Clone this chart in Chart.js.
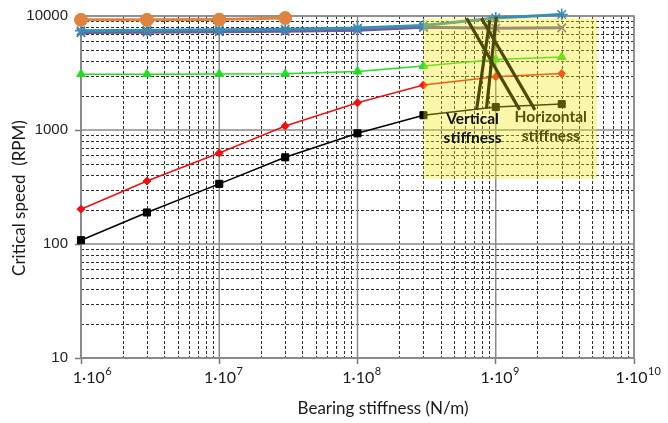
<!DOCTYPE html>
<html><head><meta charset="utf-8">
<style>html,body{margin:0;padding:0;background:#fff;}#wrap{width:668px;height:423px;}</style>
<script src="https://cdn.jsdelivr.net/npm/chart.js@4.4.1/dist/chart.umd.min.js"></script>
</head><body><div id="wrap"><canvas id="c" width="668" height="423"></canvas></div>
<script>
// ---- data ----
const stiffness = [1e6, 3e6, 1e7, 3e7, 1e8, 3e8, 1e9, 3e9];
const seriesOrange = [9250, 9250, 9300, 9600];
const seriesBlue   = [7420, 7500, 7580, 7670, 7830, 8250, 9600, 10300];
const seriesPurple = [7150, 7200, 7280, 7350, 7500, 7950, 7800, 7870];
const seriesGreen  = [3090, 3090, 3100, 3110, 3260, 3650, 4160, 4370];
const seriesRed    = [202, 357, 628, 1083, 1733, 2477, 2930, 3127];
const seriesBlack  = [108, 189, 337, 576, 935, 1348, 1589, 1687];
const xTickExponents = ['6', '7', '8', '9', '10'];
const yTickLabels = ['10', '100', '1000', '10000'];
const xTitle = 'Bearing stiffness (N/m)';
const yTitle = 'Critical speed  (RPM)';
const highlightBox = [3e8, 5.4e9, 372, 9550];            // xMin, xMax, yMin, yMax
const verticalPointers = [[7.26e8, 1500, 9.06e8, 9236], [8.57e8, 1542, 1.01e9, 9880]];
const horizontalPointers = [[1.49e9, 1500, 6.15e8, 9550], [1.92e9, 1500, 7.89e8, 9550]];
const verticalLabel = ['Vertical', 'stiffness'];
const verticalLabelAt = [6.8e8, 1257, 845];
const horizontalLabel = ['Horizontal', 'stiffness'];
const horizontalLabelAt = [2.5e9, 1306, 877];

const pts = vals => vals.map((v, i) => ({x: stiffness[i], y: v}));
const isMajor = v => Math.abs(Math.log10(v) - Math.round(Math.log10(v))) < 1e-9;
function logTicks(lo, hi) {
  const t = [];
  for (let e = lo; e < hi; e++) for (let m = 1; m <= 9; m++) t.push({value: m * Math.pow(10, e)});
  t.push({value: Math.pow(10, hi)});
  return t;
}

const decor = {
  id: 'decor',
  beforeDatasetsDraw(chart) {
    const {ctx, chartArea: a, scales: {x, y}} = chart;
    ctx.save();
    const line = (x1, y1, x2, y2) => { ctx.beginPath(); ctx.moveTo(x1, y1); ctx.lineTo(x2, y2); ctx.stroke(); };
    ctx.lineWidth = 1; ctx.strokeStyle = '#2e2e2e'; ctx.setLineDash([3, 2]);
    x.ticks.forEach(t => { if (!isMajor(t.value)) { const p = Math.round(x.getPixelForValue(t.value)) + 0.5; line(p, a.top, p, a.bottom); } });
    y.ticks.forEach(t => { if (!isMajor(t.value)) { const p = Math.round(y.getPixelForValue(t.value)) + 0.5; line(a.left, p, a.right, p); } });
    ctx.setLineDash([]); ctx.strokeStyle = '#8a8a8a'; ctx.lineWidth = 1.5;
    x.ticks.forEach(t => { if (isMajor(t.value)) { const p = x.getPixelForValue(t.value); line(p, a.top, p, a.bottom); } });
    y.ticks.forEach(t => { if (isMajor(t.value)) { const p = y.getPixelForValue(t.value); line(a.left, p, a.right, p); } });
    ctx.strokeRect(a.left, a.top, a.width, a.height);
    ctx.restore();
  },
  afterDatasetsDraw(chart) {
    const {ctx, scales: {x, y}} = chart;
    ctx.save();
    // translucent yellow highlight
    const bx1 = x.getPixelForValue(highlightBox[0]), bx2 = x.getPixelForValue(highlightBox[1]);
    const by1 = y.getPixelForValue(highlightBox[3]), by2 = y.getPixelForValue(highlightBox[2]);
    ctx.fillStyle = 'rgba(240,234,20,0.36)';
    ctx.fillRect(bx1, by1, bx2 - bx1, by2 - by1);
    // pointer lines
    ctx.strokeStyle = '#4d4906'; ctx.lineWidth = 3.2; ctx.lineCap = 'butt';
    verticalPointers.concat(horizontalPointers).forEach(p => {
      ctx.beginPath();
      ctx.moveTo(x.getPixelForValue(p[0]), y.getPixelForValue(p[1]));
      ctx.lineTo(x.getPixelForValue(p[2]), y.getPixelForValue(p[3]));
      ctx.stroke();
    });
    // labels
    ctx.textAlign = 'center'; ctx.textBaseline = 'middle';
    ctx.font = 'bold 15.5px Lato';
    ctx.fillStyle = '#111';
    verticalLabel.forEach((s, i) => ctx.fillText(s, x.getPixelForValue(verticalLabelAt[0]), y.getPixelForValue(verticalLabelAt[i + 1])));
    ctx.fillStyle = '#55500e';
    horizontalLabel.forEach((s, i) => ctx.fillText(s, x.getPixelForValue(horizontalLabelAt[0]), y.getPixelForValue(horizontalLabelAt[i + 1])));
    ctx.restore();
  },
  afterDraw(chart) {
    const {ctx, scales: {x}} = chart;
    ctx.save();
    ctx.fillStyle = '#1a1a1a'; ctx.textBaseline = 'alphabetic';
    xTickExponents.forEach((e, i) => {
      const px = x.getPixelForValue(Math.pow(10, Number(e))) + (i === 0 ? 11 : 4);
      ctx.font = '16px Lato';
      const base = '1\u00B710';
      const w1 = ctx.measureText(base).width;
      ctx.font = '11px Lato';
      const w2 = ctx.measureText(e).width;
      const left = px - (w1 + w2) / 2;
      ctx.font = '16px Lato';
      ctx.fillText(base, left, 383);
      ctx.font = '11px Lato';
      ctx.fillText(e, left + w1 + 0.5, 375);
    });
    ctx.font = '17px Lato'; ctx.textAlign = 'center';
    ctx.fillText(xTitle, 383, 414);
    ctx.translate(25, 198); ctx.rotate(-Math.PI / 2);
    ctx.font = '17px Lato';
    ctx.fillText(yTitle, 0, 0);
    ctx.restore();
  }
};

const mk = (data, color, style, radius, width, bw) => ({
  data: pts(data), borderColor: color, backgroundColor: color, pointBackgroundColor: color,
  pointBorderColor: color, pointStyle: style, pointRadius: radius, pointBorderWidth: bw,
  borderWidth: width, tension: 0, clip: false, fill: false
});

new Chart(document.getElementById('c'), {
  type: 'line',
  data: { datasets: [
    mk(seriesOrange, '#df8440', 'circle', 6.5, 3, 1),
    mk(seriesBlue, '#3a8db3', 'star', 6, 3, 1.6),
    mk(seriesPurple, '#6e5c9e', 'crossRot', 6, 3, 1.6),
    mk(seriesGreen, '#22dd22', 'triangle', 5, 1.5, 1),
    mk(seriesRed, '#f01010', 'rectRot', 4, 1.5, 1),
    mk(seriesBlack, '#000000', 'rect', 5, 1.5, 1)
  ]},
  options: {
    responsive: false, animation: false, devicePixelRatio: 1,
    layout: { padding: { left: 0, right: 34, top: 13, bottom: 0 } },
    plugins: { legend: { display: false }, tooltip: { enabled: false } },
    scales: {
      x: {
        type: 'logarithmic', min: 1e6, max: 1e10, position: 'bottom',
        afterBuildTicks: s => { s.ticks = logTicks(6, 10); },
        afterFit: s => { s.height = 65; },
        ticks: { display: false, autoSkip: false },
        grid: { drawOnChartArea: false, drawTicks: true, tickLength: 6,
                tickColor: c => isMajor(c.tick.value) ? '#777' : 'rgba(0,0,0,0)', tickWidth: 1.5 },
        border: { display: true, color: '#777', width: 1.5 }
      },
      y: {
        type: 'logarithmic', min: 10, max: 10000, position: 'left',
        afterBuildTicks: s => { s.ticks = logTicks(1, 4); },
        afterFit: s => { s.width = 81; },
        ticks: { autoSkip: false, padding: 7, color: '#222', font: { family: 'Liberation Sans', size: 15 },
                 callback: v => isMajor(v) ? yTickLabels[Math.round(Math.log10(v)) - 1] : '' },
        grid: { drawOnChartArea: false, drawTicks: true, tickLength: 6,
                tickColor: c => isMajor(c.tick.value) ? '#777' : 'rgba(0,0,0,0)', tickWidth: 1.5 },
        border: { display: true, color: '#777', width: 1.5 }
      }
    }
  },
  plugins: [decor]
});
</script></body></html>
